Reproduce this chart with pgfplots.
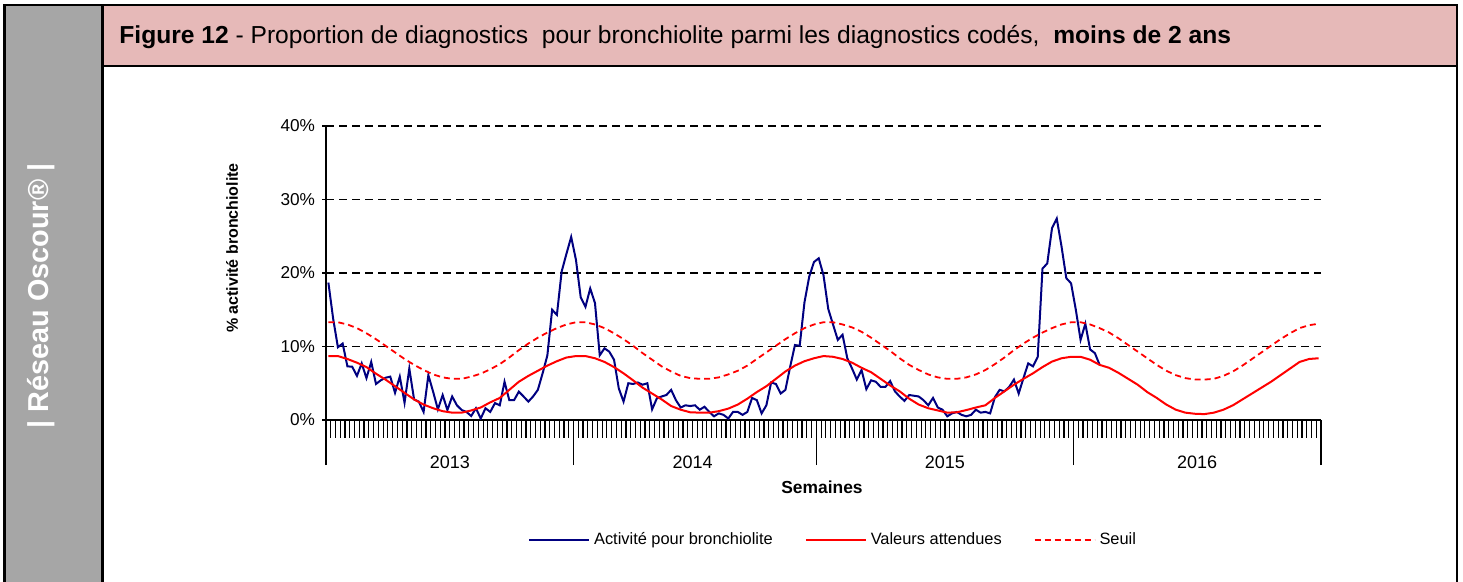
\documentclass[border=0pt]{standalone}
\usepackage{pgfplots}
\usepackage{pgfplotstable}
\pgfplotsset{compat=1.18}
\usepackage{fontspec}
\setmainfont{Liberation Sans}

\definecolor{barGrey}{HTML}{A6A6A6}
\definecolor{bandPink}{HTML}{E6B9B8}
\definecolor{navyLine}{HTML}{000080}

% weekly activity (index 0 = first week of 2013 season)
\pgfplotstableread{
w v
0 18.7
1 13.8
2 9.9
3 10.4
4 7.3
5 7.25
6 6.0
7 7.7
8 5.7
9 7.9
10 4.9
11 5.4
12 5.75
13 5.9
14 3.7
15 5.9
16 2.35
17 7.0
18 2.8
19 2.5
20 1.1
21 6.1
22 3.85
23 1.45
24 3.4
25 1.36
26 3.2
27 2.0
28 1.36
29 1.1
30 0.54
31 1.6
32 0.2
33 1.6
34 1.1
35 2.3
36 2.0
37 5.2
38 2.7
39 2.7
40 3.85
41 3.2
42 2.5
43 3.2
44 4.1
45 6.35
46 8.8
47 15.0
48 14.3
49 20.2
50 22.6
51 24.9
52 21.8
53 16.7
54 15.4
55 17.9
56 15.9
57 8.8
58 9.75
59 9.3
60 8.2
61 4.3
62 2.5
63 5.0
64 4.9
65 5.1
66 4.8
67 5.0
68 1.45
69 2.95
70 3.2
71 3.4
72 4.1
73 2.7
74 1.7
75 2.0
76 1.9
77 2.0
78 1.4
79 1.8
80 1.1
81 0.5
82 0.9
83 0.7
84 0.2
85 1.1
86 1.1
87 0.7
88 1.1
89 3.0
90 2.7
91 0.9
92 2.0
93 5.1
94 4.9
95 3.6
96 4.1
97 7.25
98 10.2
99 10.1
100 16.0
101 19.5
102 21.5
103 22.0
104 19.7
105 15.1
106 13.0
107 10.9
108 11.6
109 8.4
110 7.0
111 5.5
112 6.8
113 4.2
114 5.4
115 5.2
116 4.5
117 4.5
118 5.3
119 3.9
120 3.2
121 2.6
122 3.4
123 3.3
124 3.2
125 2.7
126 2.0
127 3.0
128 1.7
129 1.4
130 0.5
131 0.9
132 1.1
133 0.7
134 0.5
135 0.7
136 1.4
137 1.0
138 1.1
139 0.9
140 3.1
141 4.1
142 3.9
143 4.5
144 5.5
145 3.6
146 5.7
147 7.7
148 7.3
149 8.6
150 20.6
151 21.3
152 26.1
153 27.4
154 23.6
155 19.3
156 18.6
157 15.0
158 10.9
159 13.1
160 9.6
161 9.1
162 7.5
}\activite

% expected values and threshold, every second week
\pgfplotstableread{
w att seuil
0 8.7 13.3
2 8.7 13.3
4 8.3 13.0
6 7.8 12.5
8 7.2 11.8
10 6.3 11.0
12 5.5 10.1
14 4.6 9.2
16 3.7 8.3
18 2.8 7.5
20 2.1 6.8
22 1.6 6.2
24 1.2 5.8
26 1.0 5.6
28 1.0 5.6
30 1.3 5.9
32 1.7 6.3
34 2.4 6.9
36 3.0 7.6
38 4.1 8.5
40 5.2 9.5
42 6.0 10.4
44 6.7 11.2
46 7.4 11.9
48 8.0 12.5
50 8.5 13.0
52 8.7 13.3
54 8.7 13.3
56 8.4 13.0
58 7.9 12.5
60 7.2 11.8
62 6.35 11.0
64 5.4 10.1
66 4.4 9.1
68 3.6 8.2
70 2.8 7.3
72 1.9 6.6
74 1.4 6.0
76 1.05 5.7
78 1.0 5.6
80 1.0 5.6
82 1.2 5.8
84 1.55 6.2
86 2.1 6.7
88 2.9 7.4
90 3.8 8.3
92 4.6 9.2
94 5.6 10.1
96 6.6 11.0
98 7.4 11.8
100 8.0 12.5
102 8.4 13.0
104 8.7 13.3
106 8.6 13.3
108 8.3 13.0
110 7.8 12.6
112 7.1 12.0
114 6.5 11.2
116 5.6 10.3
118 4.7 9.4
120 3.9 8.4
122 2.9 7.5
124 2.1 6.8
126 1.6 6.2
128 1.3 5.8
130 1.0 5.6
132 1.05 5.6
134 1.35 5.8
136 1.7 6.2
138 2.0 6.8
140 3.0 7.6
142 3.9 8.5
144 4.8 9.5
146 5.6 10.4
148 6.35 11.2
150 7.2 11.9
152 7.95 12.5
154 8.4 13.0
156 8.6 13.3
158 8.6 13.3
160 8.2 13.0
162 7.5 12.5
164 7.1 11.9
166 6.4 11.1
168 5.6 10.2
170 4.8 9.3
172 3.8 8.4
174 3.0 7.5
176 2.1 6.7
178 1.4 6.1
180 1.0 5.7
182 0.85 5.5
184 0.8 5.5
186 1.0 5.6
188 1.4 6.0
190 2.0 6.6
192 2.8 7.4
194 3.6 8.3
196 4.4 9.2
198 5.2 10.1
200 6.1 11.0
202 7.0 11.8
204 7.9 12.5
206 8.3 12.9
208 8.4 13.1
}\attendu

\begin{document}
\begin{tikzpicture}
    \useasboundingbox (0pt,0pt) rectangle (731.5pt,-291pt);

    % frame: grey side bar and pink title band
    \fill[barGrey]  (2.25pt,-2.5pt) rectangle (51.25pt,-291pt);
    \fill[bandPink] (51.25pt,-2.5pt) rectangle (728.5pt,-33pt);
    \draw[line width=1.3pt] (2.25pt,-291pt) -- (2.25pt,-2.5pt) -- (728.5pt,-2.5pt) -- (728.5pt,-291pt);
    \draw[line width=1.3pt] (51.25pt,-2.5pt) -- (51.25pt,-291pt);
    \draw[line width=1.3pt] (51.25pt,-33pt) -- (728.5pt,-33pt);

    \node[anchor=base west, inner sep=0pt, font=\fontsize{12.3}{14}\selectfont]
        at (59.5pt,-22pt)
        {\textbf{Figure 12} - Proportion de diagnostics\ \ pour bronchiolite parmi les diagnostics codés,\ \ \textbf{moins de 2 ans}};
    \node[rotate=90, text=white, font=\bfseries\fontsize{14.4}{16}\selectfont]
        at (20.5pt,-148pt) {| Réseau Oscour® |};

    \begin{axis}[
        at = {(163pt,-210pt)}, anchor = south west,
        scale only axis,
        width  = 497.5pt,
        height = 147pt,
        xmin = -0.5, xmax = 208.5,
        ymin = 0,    ymax = 40,
        % Axes
        axis x line = bottom,
        axis y line = left,
        axis line style = {-, line width=0.9pt},
        tick align = outside,
        major tick length = 2pt,
        minor tick length = 9pt,
        tick style = {black, line width=0.6pt},
        % x: weekly ticks, year separators, year labels
        xtick = {25.5,76.5,129.5,182.5},
        xticklabels = {2013,2014,2015,2016},
        minor xtick = {-0.5,0.5,...,208.5},
        extra x ticks = {-0.5,51.5,102.5,156.5,208.5},
        extra x tick labels = {},
        extra x tick style = {major tick length=22.5pt},
        xticklabel style = {font=\fontsize{9}{10.5}\selectfont, yshift=-12.5pt},
        % y
        ytick = {0,10,20,30,40},
        yticklabels = {0\%,10\%,20\%,30\%,40\%},
        yticklabel style = {font=\fontsize{8.6}{10}\selectfont},
        ymajorgrids = true,
        grid style = {black, line width=0.75pt, dash pattern=on 4pt off 2.5pt},
        % Labels
        xlabel = {Semaines},
        xlabel style = {at={(axis description cs:0.4985,0)}, anchor=center,
                        yshift=-33.5pt, font=\bfseries\fontsize{8.7}{10}\selectfont},
        ylabel = {\% activité bronchiolite},
        ylabel style = {at={(axis description cs:-0.0945,0.585)}, anchor=center,
                        font=\bfseries\fontsize{8}{9.6}\selectfont},
        % Legend
        legend columns = 3,
        legend style = {at={(axis description cs:0.5106,-0.408)}, anchor=center,
                        draw=none, fill=none, font=\fontsize{8.2}{9.8}\selectfont,
                        /tikz/every even column/.append style={column sep=14pt}},
        legend image code/.code = {\draw[#1] (0pt,0pt) -- (30pt,0pt);},
    ]
        \addplot[navyLine, line width=1pt] table[x=w, y=v] {\activite};
        \addlegendentry{Activité pour bronchiolite}

        \addplot[red, line width=1pt] table[x=w, y=att] {\attendu};
        \addlegendentry{Valeurs attendues}

        \addplot[red, line width=0.9pt, dash pattern=on 3pt off 2pt] table[x=w, y=seuil] {\attendu};
        \addlegendentry{Seuil}
    \end{axis}
\end{tikzpicture}
\end{document}
